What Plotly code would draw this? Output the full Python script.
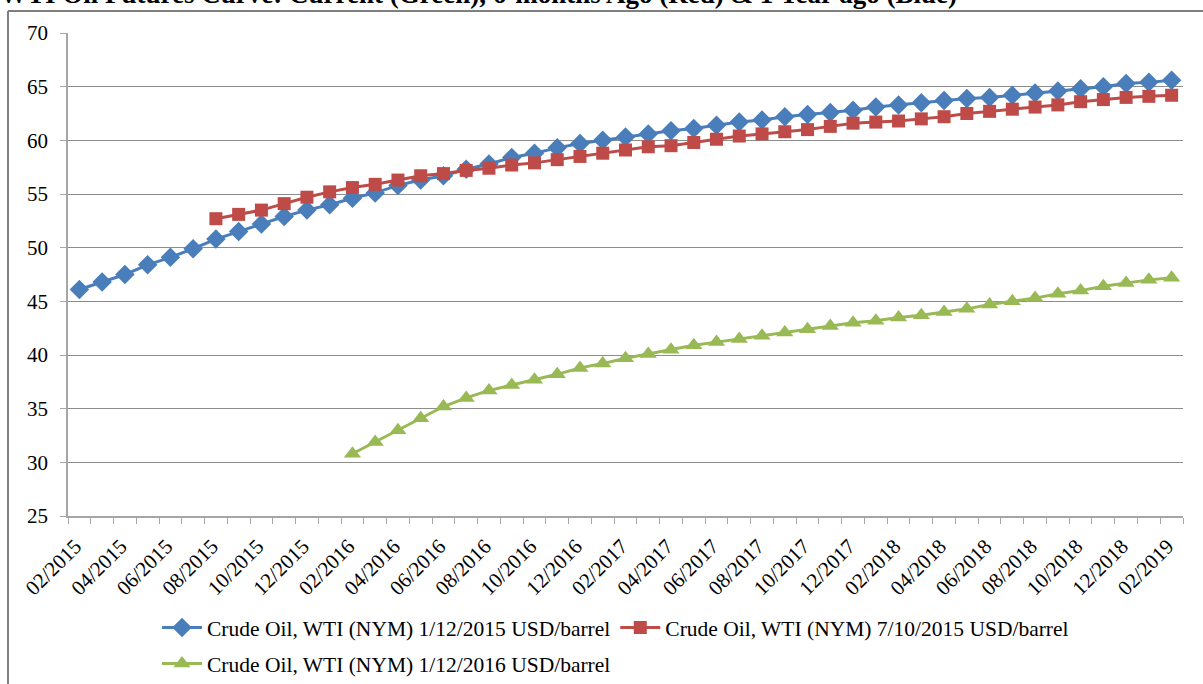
import plotly.graph_objects as go

months = ["02/2015","03/2015","04/2015","05/2015","06/2015","07/2015","08/2015","09/2015","10/2015","11/2015","12/2015",
          "01/2016","02/2016","03/2016","04/2016","05/2016","06/2016","07/2016","08/2016","09/2016","10/2016","11/2016","12/2016",
          "01/2017","02/2017","03/2017","04/2017","05/2017","06/2017","07/2017","08/2017","09/2017","10/2017","11/2017","12/2017",
          "01/2018","02/2018","03/2018","04/2018","05/2018","06/2018","07/2018","08/2018","09/2018","10/2018","11/2018","12/2018",
          "01/2019","02/2019"]

blue_name = "Crude Oil, WTI (NYM) 1/12/2015 USD/barrel"
red_name = "Crude Oil, WTI (NYM) 7/10/2015 USD/barrel"
green_name = "Crude Oil, WTI (NYM) 1/12/2016 USD/barrel"

blue_values = [46.1, 46.8, 47.5, 48.4, 49.1, 49.9, 50.8, 51.5, 52.2, 52.9, 53.5, 54.0, 54.6, 55.1, 55.8, 56.3, 56.7,
               57.3, 57.8, 58.4, 58.8, 59.3, 59.7, 60.0, 60.3, 60.6, 60.9, 61.1, 61.4, 61.7, 61.9, 62.2, 62.4, 62.6,
               62.8, 63.1, 63.3, 63.5, 63.7, 63.9, 64.0, 64.2, 64.4, 64.6, 64.8, 65.0, 65.3, 65.4, 65.6]

red_values = [None]*6 + [52.7, 53.1, 53.5, 54.1, 54.7, 55.2, 55.6, 55.9, 56.3, 56.7, 56.9, 57.2, 57.4, 57.7, 57.9,
              58.2, 58.5, 58.8, 59.1, 59.4, 59.5, 59.8, 60.1, 60.4, 60.6, 60.8, 61.0, 61.3, 61.6, 61.7, 61.8, 62.0,
              62.2, 62.5, 62.7, 62.9, 63.1, 63.3, 63.6, 63.8, 64.0, 64.1, 64.2]

green_values = [None]*12 + [30.8, 31.9, 33.0, 34.1, 35.2, 36.0, 36.7, 37.2, 37.7, 38.2, 38.8, 39.2, 39.7, 40.1,
                40.5, 40.9, 41.2, 41.5, 41.8, 42.1, 42.4, 42.7, 43.0, 43.2, 43.5, 43.7, 44.0, 44.3, 44.7, 45.0,
                45.3, 45.7, 46.0, 46.4, 46.7, 47.0, 47.2]

y_ticks = [25, 30, 35, 40, 45, 50, 55, 60, 65, 70]

title_text = "WTI Oil Futures Curve: Current (Green), 6-months Ago (Red) & 1 Year ago (Blue)"

# layout geometry (pixels)
W, H = 1203, 684
L, R, T, B = 68, 1183, 33, 516
def px_x(p):
    return (p - L) / (R - L)
def px_y(p):
    return (B - p) / (B - T)

x_idx = list(range(len(months)))
FONT = "Liberation Serif"

fig = go.Figure()
fig.add_trace(go.Scatter(x=x_idx, y=blue_values, name=blue_name, mode="lines+markers", legend="legend",
                         line=dict(color="#4A7EBB", width=3),
                         marker=dict(symbol="diamond", size=15, color="#4A7EBB")))
fig.add_trace(go.Scatter(x=x_idx, y=red_values, name=red_name, mode="lines+markers", legend="legend",
                         line=dict(color="#BE4B48", width=3),
                         marker=dict(symbol="square", size=13, color="#BE4B48")))
fig.add_trace(go.Scatter(x=x_idx, y=green_values, name=green_name, mode="lines+markers", legend="legend2",
                         line=dict(color="#98B954", width=3),
                         marker=dict(symbol="triangle-up", size=15, color="#98B954")))

legend_common = dict(orientation="h", xanchor="left", yanchor="top", bgcolor="rgba(0,0,0,0)",
                     font=dict(family=FONT, size=21.5, color="black"), itemwidth=40)

fig.update_layout(
    width=W, height=H,
    margin=dict(l=L, r=W - R, t=T, b=H - B, autoexpand=False),
    plot_bgcolor="white", paper_bgcolor="white",
    font=dict(family=FONT, size=21, color="black"),
    showlegend=True,
    legend=dict(x=px_x(157), y=px_y(607), **legend_common),
    legend2=dict(x=px_x(157), y=px_y(643), **legend_common),
    xaxis=dict(range=[-0.5, len(months) - 0.5], tickmode="array", automargin=False,
               tickvals=x_idx[::2], ticktext=months[::2], tickangle=-45,
               ticklabelstandoff=8, ticklabelshift=-4,
               showgrid=False, zeroline=False, showline=True, linecolor="#A6A6A6", linewidth=1.5,
               ticks="", tickfont=dict(family=FONT, size=21),
               minor=dict(tickmode="linear", tick0=-0.5, dtick=1, ticks="outside", ticklen=6,
                          tickcolor="#A6A6A6", tickwidth=1, showgrid=False)),
    yaxis=dict(range=[25, 70], tickmode="array", tickvals=y_ticks, automargin=False,
               showgrid=True, gridcolor="#8C8C8C", gridwidth=1, zeroline=False,
               showline=True, linecolor="#A6A6A6", linewidth=1.5,
               ticks="outside", ticklen=6, tickcolor="#A6A6A6", ticklabelstandoff=8,
               tickfont=dict(family=FONT, size=21)),
)

fig.add_annotation(text="<b>" + title_text + "</b>", xref="paper", yref="paper",
                   x=px_x(-2), y=px_y(-6), xanchor="left", yanchor="middle", showarrow=False,
                   font=dict(family=FONT, size=27, color="black"))

# chart frame: top and left edges
fig.add_shape(type="line", xref="paper", yref="paper",
              x0=px_x(8), x1=px_x(1203), y0=px_y(11), y1=px_y(11),
              line=dict(color="#7F7F7F", width=2), layer="above")
fig.add_shape(type="line", xref="paper", yref="paper",
              x0=px_x(8), x1=px_x(8), y0=px_y(11), y1=px_y(684),
              line=dict(color="#7F7F7F", width=2), layer="above")

fig.write_html("out.html", config={"displayModeBar": False},
               post_script="document.body.style.margin='0';document.body.style.overflow='hidden';")
